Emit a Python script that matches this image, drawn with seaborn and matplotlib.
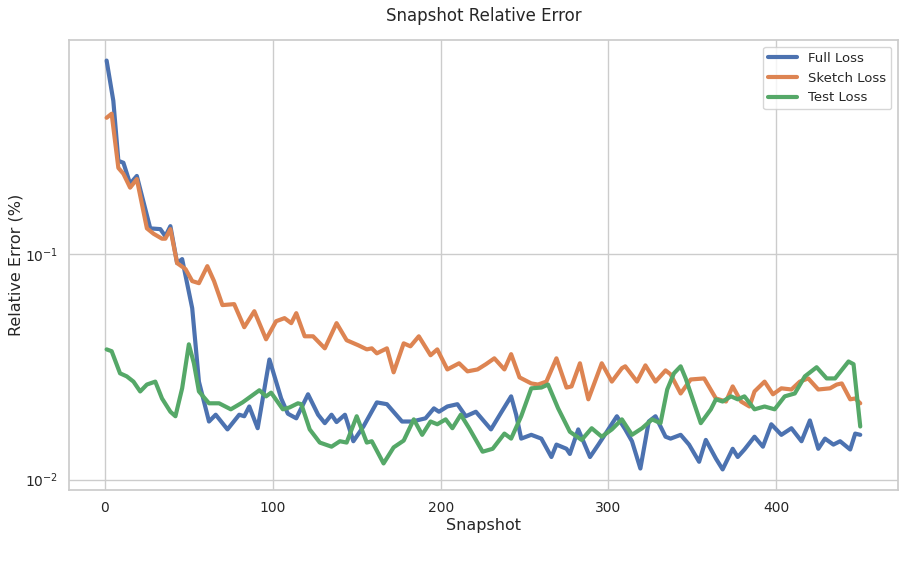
import matplotlib
matplotlib.use("Agg")
import matplotlib.pyplot as plt
import pandas as pd
import seaborn as sns

# values (snapshot, relative error)
full_snap = [1, 5, 8, 11, 15, 19, 27, 33, 36, 39, 43, 46, 52, 56, 62, 66, 73, 80, 83, 86,
             91, 98, 105, 109, 114, 121, 127, 131, 135, 138, 143, 148, 154, 162, 168, 177,
             183, 191, 196, 199, 204, 210, 215, 221, 230, 236, 242, 245, 248, 254, 260, 266,
             269, 275, 277, 282, 289, 294, 299, 305, 310, 314, 319, 324, 328, 334, 337, 343,
             348, 354, 358, 364, 368, 374, 377, 381, 387, 392, 397, 403, 409, 415, 420, 425,
             429, 434, 438, 444, 447, 450]
full_err = [0.721, 0.478, 0.259, 0.254, 0.205, 0.222, 0.130, 0.129, 0.120, 0.133, 0.0912,
            0.0950, 0.0575, 0.0272, 0.0181, 0.0194, 0.0167, 0.0194, 0.0191, 0.0211, 0.0169,
            0.0341, 0.0229, 0.0196, 0.0187, 0.0239, 0.0194, 0.0178, 0.0194, 0.0180, 0.0194,
            0.0148, 0.0172, 0.0220, 0.0216, 0.0181, 0.0181, 0.0187, 0.0207, 0.0200, 0.0211,
            0.0216, 0.0191, 0.0200, 0.0167, 0.0198, 0.0234, 0.0194, 0.0152, 0.0158, 0.0152,
            0.0126, 0.0143, 0.0137, 0.0130, 0.0167, 0.0126, 0.0143, 0.0163, 0.0191, 0.0167,
            0.0148, 0.0112, 0.0181, 0.0191, 0.0155, 0.0152, 0.0158, 0.0143, 0.0120, 0.0150,
            0.0124, 0.0111, 0.0137, 0.0126, 0.0136, 0.0155, 0.0140, 0.0176, 0.0158, 0.0169,
            0.0148, 0.0183, 0.0137, 0.0152, 0.0143, 0.0148, 0.0136, 0.0160, 0.0158]

sketch_snap = [1, 4, 8, 11, 15, 19, 25, 29, 34, 36, 39, 43, 48, 52, 56, 61, 65, 70, 77, 83,
               89, 96, 102, 107, 111, 114, 119, 124, 131, 138, 144, 151, 156, 159, 162, 168,
               172, 178, 182, 187, 194, 198, 204, 211, 216, 222, 227, 232, 238, 242, 247, 254,
               258, 263, 269, 275, 278, 283, 288, 296, 302, 308, 310, 317, 322, 328, 334, 337,
               343, 349, 357, 364, 370, 374, 379, 384, 387, 393, 398, 403, 409, 414, 419, 425,
               432, 436, 439, 444, 447, 450]
sketch_err = [0.402, 0.419, 0.241, 0.227, 0.197, 0.215, 0.130, 0.123, 0.117, 0.117, 0.129,
              0.0912, 0.0858, 0.0759, 0.0743, 0.0884, 0.0759, 0.0594, 0.0600, 0.0474, 0.0558,
              0.0419, 0.0504, 0.0520, 0.0494, 0.0547, 0.0432, 0.0432, 0.0382, 0.0494, 0.0415,
              0.0394, 0.0378, 0.0382, 0.0363, 0.0382, 0.0299, 0.0402, 0.0390, 0.0432, 0.0356,
              0.0378, 0.0308, 0.0328, 0.0302, 0.0308, 0.0325, 0.0345, 0.0308, 0.0360, 0.0284,
              0.0267, 0.0264, 0.0272, 0.0345, 0.0256, 0.0259, 0.0328, 0.0227, 0.0328, 0.0272,
              0.0312, 0.0318, 0.0272, 0.0321, 0.0272, 0.0305, 0.0293, 0.0241, 0.0278, 0.0281,
              0.0229, 0.0222, 0.0259, 0.0222, 0.0211, 0.0246, 0.0272, 0.0239, 0.0254, 0.0251,
              0.0272, 0.0281, 0.0251, 0.0254, 0.0264, 0.0267, 0.0227, 0.0229, 0.0218]

test_snap = [1, 4, 9, 13, 17, 21, 25, 30, 34, 39, 42, 46, 50, 53, 56, 62, 68, 75, 82, 92,
             96, 99, 106, 110, 115, 117, 122, 128, 135, 140, 144, 150, 156, 159, 166, 172,
             178, 184, 189, 194, 198, 203, 207, 212, 217, 225, 231, 238, 242, 248, 254, 260,
             264, 270, 277, 284, 290, 296, 302, 308, 314, 320, 326, 331, 335, 339, 343, 346,
             351, 355, 361, 364, 368, 373, 377, 381, 387, 393, 399, 405, 411, 417, 424, 430,
             435, 443, 446, 450]
test_err = [0.0378, 0.0371, 0.0296, 0.0287, 0.0272, 0.0246, 0.0264, 0.0272, 0.0229, 0.0200,
            0.0191, 0.0254, 0.0398, 0.0328, 0.0246, 0.0218, 0.0218, 0.0205, 0.0220, 0.0249,
            0.0234, 0.0243, 0.0205, 0.0209, 0.0218, 0.0216, 0.0167, 0.0146, 0.0140, 0.0148,
            0.0146, 0.0191, 0.0146, 0.0148, 0.0118, 0.0139, 0.0149, 0.0185, 0.0158, 0.0181,
            0.0176, 0.0185, 0.0169, 0.0194, 0.0169, 0.0133, 0.0137, 0.0160, 0.0152, 0.0191,
            0.0254, 0.0256, 0.0264, 0.0207, 0.0163, 0.0150, 0.0169, 0.0155, 0.0167, 0.0185,
            0.0158, 0.0169, 0.0185, 0.0178, 0.0251, 0.0296, 0.0318, 0.0281, 0.0218, 0.0178,
            0.0205, 0.0227, 0.0222, 0.0234, 0.0227, 0.0234, 0.0205, 0.0211, 0.0205, 0.0234,
            0.0241, 0.0287, 0.0315, 0.0281, 0.0281, 0.0334, 0.0325, 0.0172]

labels = ["Full Loss", "Sketch Loss", "Test Loss"]

df = pd.concat([
    pd.DataFrame({"Snapshot": full_snap, "err": full_err, "loss": labels[0]}),
    pd.DataFrame({"Snapshot": sketch_snap, "err": sketch_err, "loss": labels[1]}),
    pd.DataFrame({"Snapshot": test_snap, "err": test_err, "loss": labels[2]}),
])

sns.set_theme(style="whitegrid")
fig, ax = plt.subplots(figsize=(9.07, 5.65), dpi=100)
sns.lineplot(data=df, x="Snapshot", y="err", hue="loss", linewidth=3, ax=ax)
ax.set_yscale("log")
ax.set_title("Snapshot Relative Error", pad=14)
ax.set_xlabel("Snapshot", fontsize=11.5, labelpad=2)
ax.set_ylabel("Relative Error (%)", fontsize=11.5)
ax.tick_params(labelsize=10, pad=2)
ax.yaxis.set_label_coords(-0.055, 0.5)
ax.legend(loc="upper right", fontsize=9.5, handlelength=2.2)
fig.subplots_adjust(left=0.076, right=0.99, top=0.929, bottom=0.133)
fig.savefig("out.png", dpi=100)
